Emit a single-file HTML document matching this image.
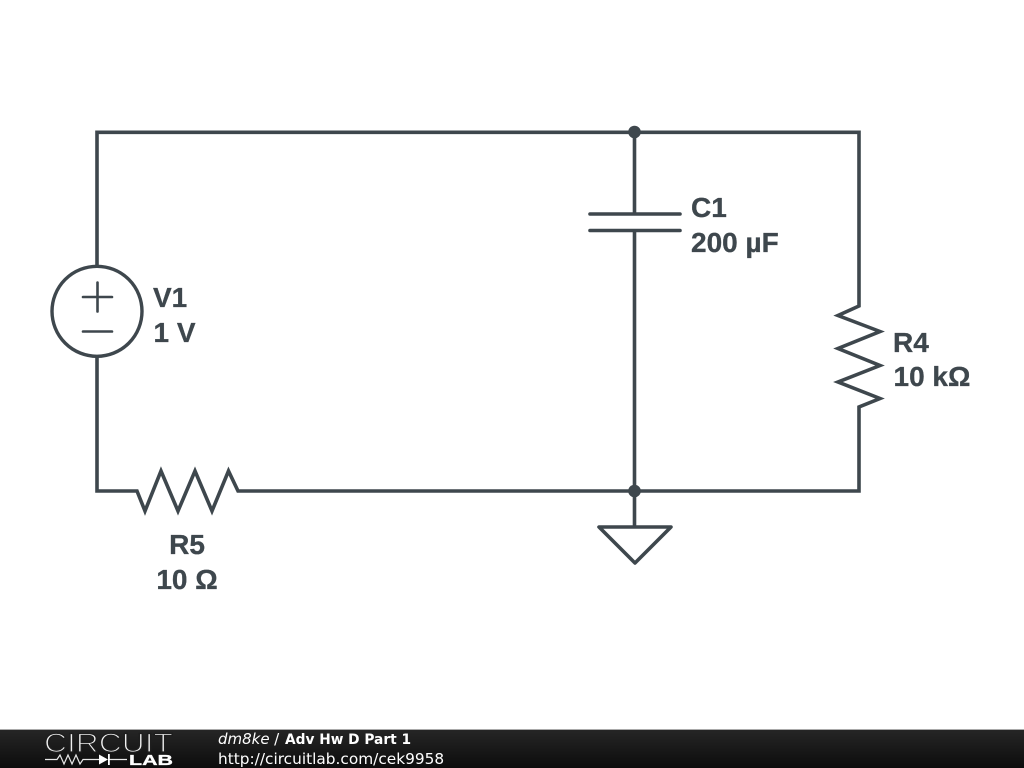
<!DOCTYPE html>
<html>
<head>
<meta charset="utf-8">
<style>
html,body{margin:0;padding:0;background:#fff;width:1024px;height:768px;overflow:hidden}
svg{display:block}
.l{font:bold 28px "Liberation Sans",sans-serif;fill:#3e474d;stroke:#3e474d;stroke-width:0.300}
.f{font:14.2px "DejaVu Sans",sans-serif;fill:#fff}
</style>
</head>
<body>
<svg width="1024" height="768" viewBox="0 0 1024 768" xmlns="http://www.w3.org/2000/svg">
<defs>
<linearGradient id="g" x1="0" y1="0" x2="0" y2="1">
<stop offset="0" stop-color="#262626"/>
<stop offset="1" stop-color="#0c0c0c"/>
</linearGradient>
</defs>
<rect width="1024" height="768" fill="#fff"/>
<g fill="none" stroke="#3e474d" stroke-width="3.600" stroke-linejoin="miter" stroke-linecap="butt">
<path d="M97 266V132.300H859V306L838 315.500L880 331.500L838 348.500L880 365.500L838 382L880 398.500L859 407V491H238L228.500 471L212 511L195 471L178 511L161 471L145 511L137 491H97V356"/>
<circle cx="97" cy="311.300" r="45" stroke-width="3.400"/>
<path d="M83 297H112M97.500 282.500V311.500M83 331.500H112" stroke-linecap="round" stroke-width="2.600"/>
<path d="M634.500 132V214M634.500 230.500V491M634.500 491V527"/>
<path d="M590 214H680M590 230.500H680" stroke-linecap="round"/>
<path d="M599 527H671L635 563Z" stroke-linejoin="round"/>
</g>
<circle cx="634.500" cy="132" r="6.300" fill="#3e474d"/>
<circle cx="634.500" cy="491" r="6.300" fill="#3e474d"/>
<text class="l" x="691" y="217">C1</text>
<text class="l" x="691" y="252">200 µF</text>
<text class="l" x="153" y="307">V1</text>
<text class="l" x="153.500" y="342">1 V</text>
<text class="l" x="893" y="352">R4</text>
<text class="l" x="893.500" y="386">10 kΩ</text>
<text class="l" x="187" y="554" text-anchor="middle">R5</text>
<text class="l" x="187" y="589" text-anchor="middle">10 Ω</text>
<rect y="729" width="1024" height="39" fill="url(#g)"/>
<rect y="729" width="1024" height="1" fill="#aaa"/>
<text x="44" y="752" font-family="Liberation Sans, sans-serif" font-size="26.500" textLength="129" lengthAdjust="spacingAndGlyphs" fill="#f0f0f0" stroke="#1e1e1e" stroke-width="1.300">CIRCUIT</text>
<path d="M45 759.500H57L60 755L64 764L68 755L72 764L76 755L80 764L83 759.500H100M109 759.500H127" fill="none" stroke="#e8e8e8" stroke-width="1.200"/>
<path d="M99 754.500L108 759.500L99 764.500Z" fill="#fff"/>
<rect x="108" y="754" width="1.800" height="11" fill="#fff"/>
<text x="129" y="765" font-family="Liberation Sans, sans-serif" font-weight="bold" font-size="14.500" textLength="44" lengthAdjust="spacingAndGlyphs" fill="#fff" stroke="#fff" stroke-width="0.300">LAB</text>
<text class="f" x="218" y="744"><tspan style="font-size:15px;font-style:italic">dm8ke</tspan> <tspan style="font-size:15px">/</tspan></text>
<text class="f" x="285" y="744" style="font-weight:bold" textLength="126" lengthAdjust="spacingAndGlyphs">Adv Hw D Part 1</text>
<text class="f" x="218" y="764" style="font-size:15.350px">http://circuitlab.com/cek9958</text>
</svg>
</body>
</html>
